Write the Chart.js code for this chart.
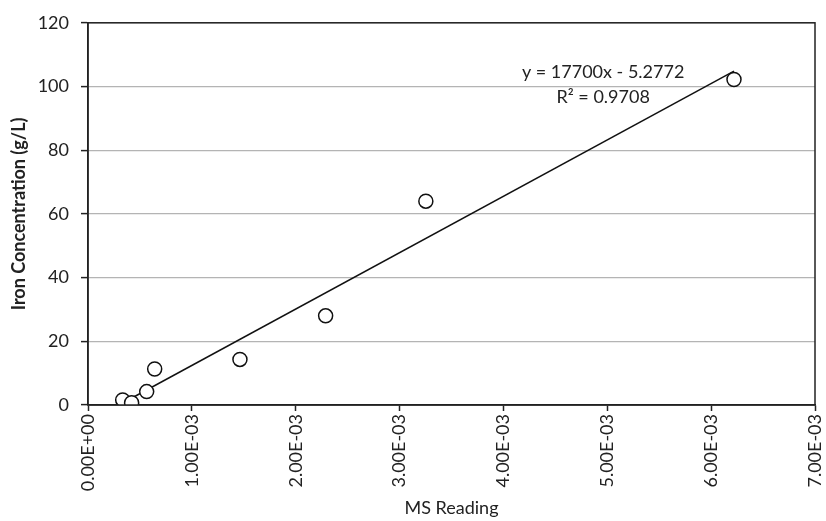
<!DOCTYPE html>
<html>
<head>
<meta charset="utf-8">
<script src="https://cdn.jsdelivr.net/npm/chart.js@4"></script>
<style>
html,body{margin:0;padding:0;background:#fff;}
#wrap{width:826px;height:521px;}
</style>
</head>
<body>
<div id="wrap"><canvas id="c" width="826" height="521"></canvas></div>
<script>
// ---- data ----
const msReading = [0.334e-3, 0.42e-3, 0.565e-3, 0.642e-3, 1.463e-3, 2.288e-3, 3.253e-3, 6.22e-3];
const ironConc  = [1.6, 0.7, 4.2, 11.3, 14.3, 28.0, 64.0, 102.2];
const trendSlope = 17700;
const trendIntercept = -5.2772;
const equationLines = ['y = 17700x - 5.2772', 'R\u00B2 = 0.9708'];
const equationAnchorX = 4.96e-3;
const equationAnchorY = [104.4, 96.5];
const xTickLabels = ['0.00E+00','1.00E-03','2.00E-03','3.00E-03','4.00E-03','5.00E-03','6.00E-03','7.00E-03'];
const yTickLabels = ['0','20','40','60','80','100','120'];
const xTitle = 'MS Reading';
const yTitle = 'Iron Concentration (g/L)';

const FONT = 'Lato, "Open Sans", sans-serif';

const points = msReading.map((x, i) => ({x: x, y: ironConc[i]}));
const xMin = Math.min(...msReading), xMax = Math.max(...msReading);
const trend = [xMin, xMax].map(x => ({x: x, y: trendSlope * x + trendIntercept}));

const framePlugin = {
  id: 'frame',
  afterDatasetsDraw(chart) {
    const {ctx, chartArea: a, scales} = chart;
    ctx.save();
    ctx.strokeStyle = '#222';
    ctx.lineWidth = 1.5;
    ctx.strokeRect(a.left, a.top, a.right - a.left, a.bottom - a.top);
    ctx.fillStyle = '#222';
    ctx.font = '18px ' + FONT;
    ctx.textAlign = 'center';
    ctx.textBaseline = 'middle';
    equationLines.forEach((t, i) => {
      ctx.fillText(t, scales.x.getPixelForValue(equationAnchorX), scales.y.getPixelForValue(equationAnchorY[i]));
    });
    ctx.restore();
  }
};

new Chart(document.getElementById('c'), {
  type: 'scatter',
  data: {
    datasets: [
      {
        label: 'data',
        data: points,
        order: 0,
        pointStyle: 'circle',
        pointRadius: 7,
        pointHoverRadius: 7,
        backgroundColor: '#fff',
        borderColor: '#111',
        borderWidth: 1.5
      },
      {
        label: 'trend',
        data: trend,
        order: 1,
        showLine: true,
        pointRadius: 0,
        borderColor: '#111',
        borderWidth: 1.5,
        fill: false
      }
    ]
  },
  options: {
    responsive: false,
    animation: false,
    devicePixelRatio: 1,
    layout: {padding: {left: 8, top: 22, right: 0, bottom: 2}},
    plugins: {legend: {display: false}, tooltip: {enabled: false}},
    scales: {
      x: {
        type: 'linear',
        min: 0, max: 7e-3,
        afterBuildTicks(s) { s.ticks = xTickLabels.map((_, i) => ({value: i * 1e-3})); },
        afterFit(s) { s.height = 114; s.paddingRight = 11; s.paddingLeft = 0; },
        ticks: {
          minRotation: 90, maxRotation: 90,
          color: '#222',
          font: {family: FONT, size: 18},
          padding: 3,
          callback: (v, i) => xTickLabels[i]
        },
        grid: {drawOnChartArea: false, drawTicks: true, tickLength: 6, tickColor: '#222', tickWidth: 1.5},
        border: {display: true, color: '#222', width: 1.5},
        title: {display: true, text: xTitle, color: '#222', font: {family: FONT, size: 18}, padding: {top: 2, bottom: 0}}
      },
      y: {
        type: 'linear',
        min: 0, max: 120,
        afterBuildTicks(s) { s.ticks = yTickLabels.map(t => ({value: Number(t)})); },
        afterFit(s) { s.width = 80; },
        ticks: {
          color: '#222',
          font: {family: FONT, size: 18},
          padding: 12,
          callback: (v, i) => yTickLabels[i]
        },
        grid: {color: '#b4b4b4', lineWidth: 1.2, drawTicks: true, tickLength: 7, tickColor: '#222', tickWidth: 1.5},
        border: {display: true, color: '#222', width: 1.5},
        title: {display: true, text: yTitle, color: '#222', font: {family: FONT, size: 18, weight: 'bold'}, padding: {top: 0, bottom: 0}}
      }
    }
  },
  plugins: [framePlugin]
});
</script>
</body>
</html>
